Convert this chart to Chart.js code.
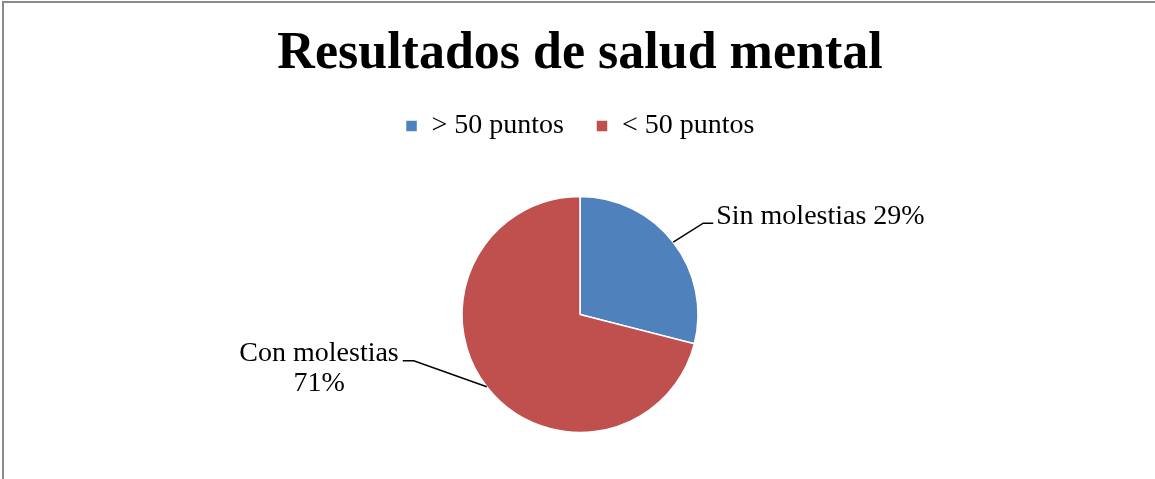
<!DOCTYPE html>
<html>
<head>
<meta charset="utf-8">
<script src="https://cdn.jsdelivr.net/npm/chart.js@4.4.0/dist/chart.umd.min.js"></script>
<style>
  html, body { margin: 0; padding: 0; background: #ffffff; }
  #wrap { position: relative; width: 1155px; height: 479px; overflow: hidden; }
  #frame { position: absolute; left: 2px; top: 1px; width: 1200px; height: 600px;
           border-left: 2px solid #8a8a8a; border-top: 2px solid #8a8a8a; box-sizing: border-box; pointer-events: none; }
  canvas { position: absolute; left: 0; top: 0; }
</style>
</head>
<body>
<div id="wrap">
  <canvas id="c" width="1155" height="479"></canvas>
  <div id="frame"></div>
</div>
<script>
const titleText = "Resultados de salud mental";
const categories = ["> 50 puntos", "< 50 puntos"];
const dataLabels = ["Sin molestias", "Con molestias"];
const values = [29, 71];
const colors = ["#4F81BD", "#C0504D"];

const serif = "'Liberation Serif', 'DejaVu Serif', serif";

const labelPlugin = {
  id: "sliceLabels",
  afterDatasetsDraw(chart) {
    const ctx = chart.ctx;
    const meta = chart.getDatasetMeta(0);
    const total = values.reduce((a, b) => a + b, 0);
    ctx.save();
    ctx.strokeStyle = "#000000";
    ctx.lineWidth = 1.5;
    ctx.fillStyle = "#000000";
    ctx.font = "28px " + serif;
    ctx.textBaseline = "alphabetic";
    meta.data.forEach((arc, i) => {
      const p = arc.getProps(["x", "y", "startAngle", "endAngle", "outerRadius"], true);
      const mid = (p.startAngle + p.endAngle) / 2;
      const ex = p.x + Math.cos(mid) * p.outerRadius;
      const ey = p.y + Math.sin(mid) * p.outerRadius;
      const pct = Math.round(values[i] / total * 100) + "%";
      ctx.beginPath();
      if (Math.cos(mid) >= 0) {
        const kx = ex + 30, ky = ey - 19;
        ctx.moveTo(ex, ey); ctx.lineTo(kx, ky); ctx.lineTo(kx + 10, ky);
        ctx.stroke();
        ctx.textAlign = "left";
        ctx.fillText(dataLabels[i] + " " + pct, kx + 13, ky + 1);
      } else {
        const kx = ex - 73, ky = ey - 26;
        ctx.moveTo(ex, ey); ctx.lineTo(kx, ky); ctx.lineTo(kx - 11, ky);
        ctx.stroke();
        const w = ctx.measureText(dataLabels[i]).width;
        ctx.textAlign = "right";
        ctx.fillText(dataLabels[i], kx - 15, ky);
        ctx.textAlign = "center";
        ctx.fillText(pct, kx - 15 - w / 2, ky + 30);
      }
    });
    ctx.restore();
  }
};

new Chart(document.getElementById("c"), {
  type: "pie",
  data: {
    labels: categories,
    datasets: [{
      data: values,
      backgroundColor: colors,
      borderColor: "#ffffff",
      borderWidth: 1.5,
      radius: 118
    }]
  },
  options: {
    responsive: false,
    animation: false,
    layout: { padding: { left: 5, right: 0, top: 0, bottom: -8 } },
    plugins: {
      tooltip: { enabled: false },
      title: {
        display: true,
        text: titleText,
        color: "#000000",
        font: { family: serif, size: 52, weight: "bold", lineHeight: 1.0 },
        padding: { top: 29, bottom: -1 }
      },
      legend: {
        display: true,
        position: "top",
        labels: {
          color: "#000000",
          font: { family: serif, size: 28 },
          boxWidth: 12,
          boxHeight: 12,
          padding: 32
        }
      }
    }
  },
  plugins: [labelPlugin]
});
</script>
</body>
</html>
